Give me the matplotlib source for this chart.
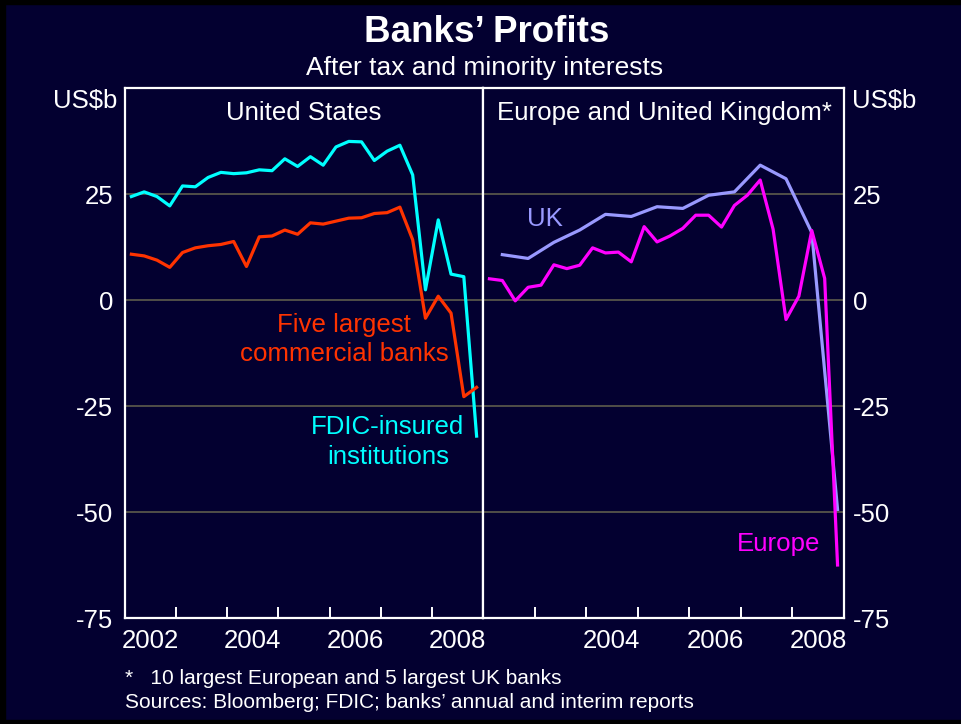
import matplotlib
matplotlib.use("Agg")
import matplotlib.pyplot as plt
from matplotlib.patches import Rectangle
import numpy as np

plt.rcParams['font.family'] = ['Liberation Sans', 'DejaVu Sans']

# ---------------- data ----------------
# quarterly, 2002Q1 .. 2008Q4 (US$b)
fdic = [24.4, 25.5, 24.4, 22.2, 26.9, 26.7, 28.9, 30.1, 29.8, 30.0, 30.7, 30.5,
        33.3, 31.5, 33.8, 31.8, 36.1, 37.4, 37.3, 32.9, 35.1, 36.5, 29.5, 2.4,
        18.9, 6.1, 5.5, -32.1]
five_largest = [10.8, 10.4, 9.4, 7.7, 11.2, 12.3, 12.8, 13.1, 13.8, 7.9, 14.9, 15.1,
                16.5, 15.5, 18.2, 17.9, 18.6, 19.3, 19.4, 20.4, 20.6, 21.9, 14.2, -4.3,
                0.9, -3.1, -22.8, -20.6]
europe = [5.0, 4.6, -0.2, 3.0, 3.5, 8.3, 7.4, 8.2, 12.3, 11.1, 11.3, 9.0,
          17.3, 13.7, 15.1, 16.9, 20.0, 20.0, 17.2, 22.3, 24.7, 28.3, 16.7, -4.6,
          0.9, 16.4, 5.1, -62.5]
# half-yearly, 2002H1 .. 2008H2
uk = [10.7, 9.8, 13.6, 16.5, 20.2, 19.7, 22.0, 21.6, 24.7, 25.5, 31.8, 28.6, 15.9, -49.4]

quarters = 2002 + 0.125 + 0.25 * np.arange(len(fdic))
halves = 2002 + 0.375 + 0.5 * np.arange(len(uk))

year_ticks = [2003, 2004, 2005, 2006, 2007, 2008]
left_labels = [2002, 2004, 2006, 2008]
right_labels = [2004, 2006, 2008]
y_ticks = [-75, -50, -25, 0, 25]

# ---------------- style ----------------
BG = '#030030'
GRID = '#5e5c4c'
W, H = 961, 724
fig = plt.figure(figsize=(W / 100, H / 100), dpi=100, facecolor=BG)

def fx(px):
    return px / W

def fy(py):
    return 1 - py / H

L, M, R, T, B = 125, 483, 844, 88, 618
ax1 = fig.add_axes([fx(L), fy(B), fx(M - L), (B - T) / H])
ax2 = fig.add_axes([fx(M), fy(B), fx(R - M), (B - T) / H])

LBL = 18.6
for ax in (ax1, ax2):
    ax.set_facecolor(BG)
    ax.set_xlim(2002, 2009)
    ax.set_ylim(-75, 50)
    for s in ax.spines.values():
        s.set_color('white')
        s.set_linewidth(1.6)
    for yv in [25, 0, -25, -50]:
        ax.axhline(yv, color=GRID, lw=1.2, zorder=1)
    ax.set_yticks(y_ticks)
    ax.set_xticks(year_ticks)
    ax.set_xticklabels([])
    ax.tick_params(axis='x', which='major', direction='in', length=8, width=1.4,
                   color='white', bottom=True, top=False)
    ax.set_xticks([y + 0.5 for y in (left_labels if ax is ax1 else right_labels)], minor=True)
    ax.tick_params(axis='x', which='minor', length=0, labelsize=18.5, labelcolor='white', pad=8)
    ax.tick_params(axis='y', length=0, labelsize=18.5, labelcolor='white')

ax1.tick_params(axis='y', pad=8.5)
ax2.tick_params(axis='y', pad=6.5)
ax1.set_xticklabels([str(y) for y in left_labels], minor=True)
ax2.set_xticklabels([str(y) for y in right_labels], minor=True)
ax2.yaxis.tick_right()
ax1.set_yticklabels([str(v) for v in y_ticks])
ax2.set_yticklabels([str(v) for v in y_ticks])

# series
ax1.plot(quarters, fdic, color='#00ffff', lw=2.3, zorder=3, clip_on=False)
ax1.plot(quarters, five_largest, color='#ff3300', lw=2.3, zorder=3, clip_on=False)
ax2.plot(halves, uk, color='#9999ff', lw=2.3, zorder=3, clip_on=False)
ax2.plot(quarters, europe, color='#ff00ff', lw=2.3, zorder=4, clip_on=False)

# in-panel labels
ax1.text(2005.5, 44.1, 'United States', color='white', fontsize=LBL, ha='center', va='center')
ax2.text(2005.52, 44.1, 'Europe and United Kingdom*', color='white', fontsize=LBL,
         ha='center', va='center')
ax1.text(2006.28, -9.3, 'Five largest\ncommercial banks', color='#ff3300', fontsize=LBL,
         ha='center', va='center', linespacing=1.22)
ax1.text(2007.14, -33.5, 'FDIC-insured\ninstitutions', color='#00ffff', fontsize=LBL,
         ha='center', va='center', linespacing=1.34)
ax2.text(2003.21, 19.1, 'UK', color='#9999ff', fontsize=LBL, ha='center', va='center')
ax2.text(2007.74, -57.5, 'Europe', color='#ff00ff', fontsize=LBL, ha='center', va='center')

# unit labels
fig.text(fx(117), fy(101), 'US$b', color='white', fontsize=18.5, ha='right', va='center')
fig.text(fx(852), fy(101), 'US$b', color='white', fontsize=18.5, ha='left', va='center')

# titles
fig.text(fx(487), fy(32), 'Banks\u2019 Profits', color='white', fontsize=26.5,
         fontweight='bold', ha='center', va='center')
fig.text(fx(485), fy(68), 'After tax and minority interests', color='white', fontsize=19,
         ha='center', va='center')

# footnotes
fig.text(fx(125), fy(678), '*   10 largest European and 5 largest UK banks', color='white',
         fontsize=15, ha='left', va='center')
fig.text(fx(125), fy(703), 'Sources: Bloomberg; FDIC; banks\u2019 annual and interim reports',
         color='white', fontsize=15, ha='left', va='center')

# dark frame edges
fig.patches.append(Rectangle((0, fy(4)), 1, 4 / H, transform=fig.transFigure,
                             color='black', zorder=0))
fig.patches.append(Rectangle((0, 0), 1, 4 / H, transform=fig.transFigure,
                             color='black', zorder=0))
fig.patches.append(Rectangle((0, 0), 5 / W, 1, transform=fig.transFigure,
                             color='black', zorder=0))

fig.savefig('out.png', dpi=100, facecolor=BG)
